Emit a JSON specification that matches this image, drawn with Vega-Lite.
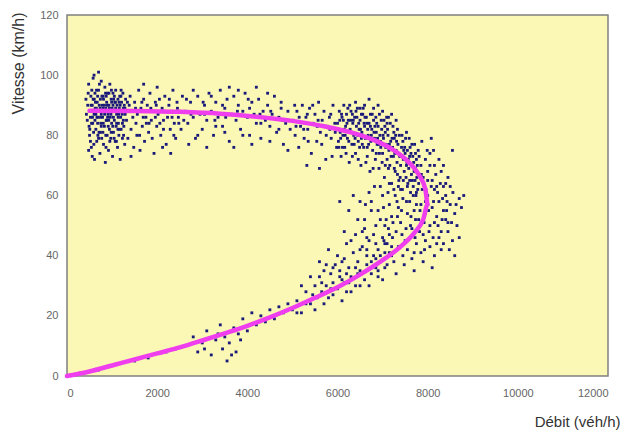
{
"$schema": "https://vega.github.io/schema/vega-lite/v6.json",
"width": 541, "height": 361,
"autosize": "none",
"padding": {"left": 67, "top": 15, "right": 18, "bottom": 62},
"background": "white",
"config": {"view": {"fill": "#FBF7B4", "stroke": "#808080", "strokeWidth": 1.5},
 "axis": {"grid": false, "ticks": false, "domain": false, "labelFont": "Liberation Sans", "labelFontSize": 11, "labelColor": "#666666", "titleFont": "Liberation Sans", "titleFontWeight": "normal", "titleColor": "#333333"}},
"datasets": {
"pts": [
{"q":420,"v":92},{"q":450,"v":85},{"q":480,"v":97},{"q":500,"v":80},{"q":510,"v":88},{"q":530,"v":93},{"q":540,"v":76},{"q":560,"v":90},{"q":570,"v":84},{"q":580,"v":99},{"q":600,"v":87},{"q":610,"v":72},{"q":620,"v":94},{"q":640,"v":82},{"q":650,"v":89},{"q":660,"v":78},{"q":670,"v":91},{"q":690,"v":86},{"q":700,"v":95},{"q":710,"v":81},{"q":720,"v":88},{"q":730,"v":74},{"q":740,"v":92},{"q":750,"v":84},{"q":760,"v":98},{"q":770,"v":79},{"q":780,"v":90},{"q":790,"v":86},{"q":800,"v":93},{"q":810,"v":77},{"q":820,"v":88},{"q":830,"v":83},{"q":840,"v":96},{"q":850,"v":71},{"q":860,"v":89},{"q":870,"v":85},{"q":880,"v":91},{"q":890,"v":80},{"q":900,"v":94},{"q":910,"v":87},{"q":920,"v":75},{"q":930,"v":90},{"q":940,"v":82},{"q":950,"v":97},{"q":960,"v":86},{"q":970,"v":79},{"q":980,"v":92},{"q":990,"v":84},{"q":1000,"v":89},{"q":1010,"v":73},{"q":1020,"v":94},{"q":1030,"v":81},{"q":1040,"v":88},{"q":1050,"v":85},{"q":1060,"v":91},{"q":1070,"v":78},{"q":1080,"v":95},{"q":1090,"v":83},{"q":1100,"v":87},{"q":1110,"v":90},{"q":1120,"v":76},{"q":1130,"v":92},{"q":1140,"v":84},{"q":1150,"v":80},{"q":1160,"v":89},{"q":1170,"v":93},{"q":1180,"v":72},{"q":1190,"v":86},{"q":1200,"v":82},{"q":1210,"v":91},{"q":1220,"v":88},{"q":1230,"v":79},{"q":1240,"v":94},{"q":1250,"v":85},{"q":1260,"v":83},{"q":1270,"v":90},{"q":1280,"v":77},{"q":1290,"v":87},{"q":1300,"v":92},
{"q":460,"v":90},{"q":490,"v":83},{"q":520,"v":86},{"q":550,"v":95},{"q":590,"v":81},{"q":630,"v":91},{"q":680,"v":84},{"q":720,"v":97},{"q":760,"v":87},{"q":810,"v":92},{"q":860,"v":80},{"q":900,"v":86},{"q":940,"v":89},{"q":990,"v":91},{"q":1050,"v":93},{"q":1100,"v":84},{"q":1150,"v":87},{"q":1200,"v":95},{"q":1250,"v":89},{"q":520,"v":78},{"q":580,"v":92},{"q":640,"v":87},{"q":700,"v":79},{"q":760,"v":83},{"q":830,"v":90},{"q":880,"v":85},{"q":930,"v":94},{"q":980,"v":81},{"q":1030,"v":86},{"q":1080,"v":89},{"q":1130,"v":82},{"q":1180,"v":90},{"q":1230,"v":84},{"q":600,"v":100},{"q":700,"v":101},{"q":480,"v":75},{"q":560,"v":73},{"q":620,"v":85},{"q":680,"v":93},{"q":740,"v":81},{"q":800,"v":89},{"q":870,"v":93},{"q":950,"v":78},{"q":1020,"v":90},
{"q":430,"v":87},{"q":470,"v":94},{"q":505,"v":82},{"q":535,"v":90},{"q":565,"v":86},{"q":595,"v":77},{"q":625,"v":89},{"q":655,"v":95},{"q":685,"v":80},{"q":715,"v":90},{"q":745,"v":86},{"q":775,"v":93},{"q":805,"v":84},{"q":835,"v":87},{"q":865,"v":76},{"q":895,"v":90},{"q":925,"v":85},{"q":955,"v":88},{"q":985,"v":95},{"q":1015,"v":83},{"q":1045,"v":79},{"q":1075,"v":91},{"q":1105,"v":88},{"q":1135,"v":86},{"q":1165,"v":82},{"q":1195,"v":93},{"q":1225,"v":87},{"q":1255,"v":80},{"q":1285,"v":89},{"q":545,"v":84},{"q":605,"v":92},{"q":665,"v":86},{"q":735,"v":89},{"q":795,"v":81},{"q":855,"v":94},{"q":915,"v":83},{"q":975,"v":87},{"q":1035,"v":92},{"q":1095,"v":78},{"q":1155,"v":91},
{"q":1320,"v":85},{"q":1350,"v":79},{"q":1380,"v":90},{"q":1400,"v":93},{"q":1420,"v":82},{"q":1450,"v":88},{"q":1480,"v":76},{"q":1500,"v":91},{"q":1530,"v":84},{"q":1560,"v":87},{"q":1590,"v":95},{"q":1610,"v":80},{"q":1640,"v":89},{"q":1670,"v":83},{"q":1700,"v":92},{"q":1720,"v":78},{"q":1750,"v":86},{"q":1780,"v":90},{"q":1810,"v":81},{"q":1840,"v":94},{"q":1870,"v":85},{"q":1900,"v":88},{"q":1930,"v":74},{"q":1960,"v":91},{"q":1990,"v":83},{"q":2020,"v":87},{"q":2050,"v":92},{"q":2080,"v":80},{"q":2110,"v":89},{"q":2140,"v":85},{"q":2170,"v":93},{"q":2200,"v":77},{"q":2230,"v":86},{"q":2260,"v":90},{"q":2290,"v":82},{"q":2320,"v":88},{"q":2350,"v":95},{"q":2380,"v":84},{"q":2410,"v":79},{"q":2440,"v":91},{"q":2470,"v":86},{"q":2500,"v":88},{"q":2530,"v":82},{"q":2560,"v":93},{"q":2590,"v":85},{"q":1340,"v":91},{"q":1460,"v":86},{"q":1550,"v":80},{"q":1660,"v":91},{"q":1760,"v":84},{"q":1860,"v":89},{"q":1960,"v":86},{"q":2060,"v":84},{"q":2160,"v":88},{"q":2270,"v":92},{"q":2370,"v":80},{"q":2480,"v":84},{"q":1420,"v":73},{"q":1620,"v":75},{"q":1890,"v":79},{"q":2120,"v":76},{"q":2300,"v":74},{"q":1700,"v":97},{"q":2000,"v":96},
{"q":1520,"v":89},{"q":1690,"v":86},{"q":1820,"v":84},{"q":1980,"v":90},{"q":2140,"v":82},{"q":2330,"v":86},{"q":2450,"v":89},{"q":2750,"v":87},{"q":3020,"v":91},{"q":3280,"v":85},{"q":3520,"v":86},{"q":3780,"v":88},{"q":4020,"v":92},{"q":4280,"v":87},{"q":4520,"v":88},{"q":4780,"v":85},{"q":5080,"v":83},{"q":5330,"v":87},{"q":5570,"v":85},{"q":5830,"v":82},
{"q":2620,"v":88},{"q":2680,"v":84},{"q":2740,"v":91},{"q":2800,"v":86},{"q":2850,"v":79},{"q":2900,"v":93},{"q":2950,"v":87},{"q":3000,"v":82},{"q":3050,"v":90},{"q":3100,"v":85},{"q":3150,"v":94},{"q":3200,"v":88},{"q":3250,"v":80},{"q":3300,"v":91},{"q":3350,"v":86},{"q":3400,"v":95},{"q":3450,"v":83},{"q":3500,"v":89},{"q":3550,"v":92},{"q":3600,"v":78},{"q":3650,"v":87},{"q":3700,"v":93},{"q":3750,"v":85},{"q":3800,"v":90},{"q":3850,"v":82},{"q":3900,"v":88},{"q":3950,"v":94},{"q":4000,"v":86},{"q":4050,"v":80},{"q":4100,"v":91},{"q":4150,"v":87},{"q":4200,"v":84},{"q":4250,"v":92},{"q":4300,"v":79},{"q":4350,"v":88},{"q":4400,"v":85},{"q":4450,"v":90},{"q":4500,"v":83},{"q":4550,"v":87},{"q":4600,"v":93},{"q":4650,"v":81},{"q":4700,"v":86},{"q":4750,"v":89},{"q":4800,"v":77},{"q":4850,"v":84},{"q":4900,"v":88},{"q":4950,"v":82},{"q":2700,"v":77},{"q":2900,"v":80},{"q":3100,"v":76},{"q":3300,"v":83},{"q":3500,"v":81},{"q":3700,"v":76},{"q":3900,"v":80},{"q":4100,"v":77},{"q":4300,"v":84},{"q":4500,"v":78},{"q":4700,"v":82},{"q":4900,"v":75},{"q":3600,"v":96},{"q":3800,"v":95},{"q":4200,"v":96},{"q":3200,"v":93},{"q":2800,"v":95},{"q":4450,"v":94},{"q":4050,"v":89},{"q":3450,"v":90},{"q":3050,"v":87},{"q":2650,"v":92},{"q":4750,"v":91},
{"q":5020,"v":85},{"q":5060,"v":80},{"q":5100,"v":88},{"q":5140,"v":76},{"q":5180,"v":83},{"q":5220,"v":90},{"q":5260,"v":79},{"q":5300,"v":86},{"q":5340,"v":82},{"q":5380,"v":89},{"q":5420,"v":74},{"q":5460,"v":84},{"q":5500,"v":87},{"q":5540,"v":78},{"q":5580,"v":91},{"q":5620,"v":81},{"q":5660,"v":85},{"q":5700,"v":88},{"q":5740,"v":72},{"q":5780,"v":83},{"q":5820,"v":86},{"q":5860,"v":79},{"q":5900,"v":90},{"q":5940,"v":84},{"q":5980,"v":76},{"q":5050,"v":90},{"q":5150,"v":86},{"q":5250,"v":82},{"q":5350,"v":78},{"q":5450,"v":90},{"q":5550,"v":83},{"q":5650,"v":77},{"q":5750,"v":80},{"q":5850,"v":87},{"q":5950,"v":81},{"q":5320,"v":70},{"q":5600,"v":69},{"q":5880,"v":73},
{"q":6000,"v":84},{"q":6020,"v":78},{"q":6040,"v":88},{"q":6060,"v":81},{"q":6080,"v":73},{"q":6100,"v":86},{"q":6120,"v":80},{"q":6140,"v":90},{"q":6160,"v":76},{"q":6180,"v":83},{"q":6200,"v":87},{"q":6220,"v":79},{"q":6240,"v":85},{"q":6260,"v":71},{"q":6280,"v":82},{"q":6300,"v":88},{"q":6320,"v":77},{"q":6340,"v":84},{"q":6360,"v":80},{"q":6380,"v":86},{"q":6400,"v":74},{"q":6420,"v":83},{"q":6440,"v":89},{"q":6460,"v":78},{"q":6480,"v":82},{"q":6500,"v":85},{"q":6520,"v":70},{"q":6540,"v":81},{"q":6560,"v":87},{"q":6580,"v":76},{"q":6600,"v":83},{"q":6620,"v":79},{"q":6640,"v":86},{"q":6660,"v":73},{"q":6680,"v":80},{"q":6700,"v":84},{"q":6720,"v":68},{"q":6740,"v":78},{"q":6760,"v":82},{"q":6780,"v":75},{"q":6800,"v":85},{"q":6820,"v":79},{"q":6840,"v":72},{"q":6860,"v":81},{"q":6880,"v":77},{"q":6900,"v":83},{"q":6920,"v":69},{"q":6940,"v":80},{"q":6960,"v":76},{"q":6980,"v":82},{"q":7000,"v":74},{"q":7020,"v":79},{"q":7040,"v":66},{"q":7060,"v":81},{"q":7080,"v":77},{"q":7100,"v":72},{"q":7120,"v":80},{"q":7140,"v":75},{"q":7160,"v":70},{"q":7180,"v":78},{"q":7200,"v":64},{"q":7220,"v":76},{"q":7240,"v":73},{"q":7260,"v":79},{"q":7280,"v":68},{"q":7300,"v":75},{"q":7320,"v":71},{"q":7340,"v":77},{"q":7360,"v":65},{"q":7380,"v":73},{"q":7400,"v":70},{"q":7420,"v":76},{"q":7440,"v":62},{"q":7460,"v":72},{"q":7480,"v":68},{"q":7500,"v":74},{"q":7520,"v":66},{"q":7540,"v":71},{"q":7560,"v":64},{"q":7580,"v":69},{"q":7600,"v":73},{"q":7620,"v":61},{"q":7640,"v":67},{"q":7660,"v":70},{"q":7680,"v":63},{"q":7700,"v":68},{"q":7720,"v":65},{"q":7740,"v":60},{"q":7760,"v":66},{"q":7780,"v":62},
{"q":6050,"v":85},{"q":6150,"v":82},{"q":6250,"v":78},{"q":6350,"v":85},{"q":6450,"v":80},{"q":6550,"v":77},{"q":6650,"v":84},{"q":6750,"v":80},{"q":6850,"v":86},{"q":6950,"v":78},{"q":7050,"v":83},{"q":7150,"v":77},{"q":7250,"v":81},{"q":7350,"v":74},{"q":7450,"v":78},{"q":7550,"v":75},{"q":7650,"v":77},{"q":7750,"v":72},{"q":6110,"v":76},{"q":6230,"v":89},{"q":6330,"v":73},{"q":6430,"v":86},{"q":6530,"v":79},{"q":6630,"v":71},{"q":6730,"v":87},{"q":6830,"v":83},{"q":6930,"v":74},{"q":7030,"v":85},{"q":7130,"v":69},{"q":7230,"v":83},{"q":7330,"v":67},{"q":7430,"v":80},{"q":7530,"v":70},{"q":7630,"v":74},{"q":7730,"v":69},{"q":6070,"v":79},{"q":6190,"v":74},{"q":6290,"v":85},{"q":6390,"v":79},{"q":6490,"v":76},{"q":6590,"v":84},{"q":6690,"v":77},{"q":6790,"v":69},{"q":6890,"v":79},{"q":6990,"v":71},{"q":7090,"v":86},{"q":7190,"v":73},{"q":7290,"v":80},{"q":7390,"v":66},{"q":7490,"v":76},{"q":7590,"v":79},{"q":7690,"v":71},{"q":7790,"v":75},{"q":7850,"v":70},{"q":7900,"v":66},{"q":7950,"v":72},{"q":8000,"v":68},{"q":8050,"v":74},{"q":8100,"v":65},{"q":8150,"v":70},{"q":8200,"v":63},{"q":8300,"v":68},{"q":8400,"v":64},{"q":8550,"v":75},{"q":7870,"v":78},{"q":7960,"v":62},{"q":8080,"v":79},{"q":8250,"v":72},
{"q":6010,"v":82},{"q":6090,"v":87},{"q":6170,"v":80},{"q":6210,"v":84},{"q":6270,"v":90},{"q":6310,"v":81},{"q":6370,"v":77},{"q":6410,"v":88},{"q":6470,"v":84},{"q":6510,"v":82},{"q":6570,"v":89},{"q":6610,"v":86},{"q":6670,"v":82},{"q":6710,"v":79},{"q":6770,"v":87},{"q":6810,"v":81},{"q":6870,"v":84},{"q":6910,"v":77},{"q":6970,"v":85},{"q":7010,"v":80},{"q":7070,"v":76},{"q":7110,"v":82},{"q":7170,"v":84},{"q":7210,"v":79},{"q":7270,"v":74},{"q":7310,"v":78},{"q":7370,"v":80},{"q":7410,"v":73},{"q":7470,"v":75},{"q":7510,"v":79},{"q":7570,"v":72},{"q":7610,"v":76},{"q":7670,"v":73},{"q":7710,"v":77},{"q":7770,"v":70},{"q":7810,"v":73},{"q":6030,"v":76},{"q":6130,"v":85},{"q":6330,"v":87},{"q":6530,"v":87},{"q":6730,"v":83},{"q":6930,"v":87},{"q":7130,"v":86},{"q":7330,"v":82},{"q":7530,"v":81},{"q":7730,"v":74},{"q":6460,"v":72},{"q":6660,"v":76},{"q":6860,"v":74},{"q":7060,"v":70},{"q":7260,"v":69},{"q":7460,"v":65},{"q":7660,"v":65},{"q":7860,"v":67},{"q":8050,"v":70},{"q":8180,"v":67},{"q":8350,"v":70},{"q":8450,"v":66},{"q":7990,"v":75},{"q":8130,"v":75},
{"q":6400,"v":91},{"q":6600,"v":90},{"q":6800,"v":89},{"q":7000,"v":88},{"q":7200,"v":87},{"q":6700,"v":92},{"q":6500,"v":89},{"q":6900,"v":90},{"q":7100,"v":84},{"q":7300,"v":85},
{"q":6500,"v":58},{"q":6600,"v":52},{"q":6700,"v":61},{"q":6800,"v":47},{"q":6900,"v":55},{"q":7000,"v":60},{"q":7050,"v":50},{"q":7100,"v":44},{"q":7150,"v":57},{"q":7200,"v":53},{"q":7250,"v":62},{"q":7300,"v":48},{"q":7350,"v":56},{"q":7400,"v":51},{"q":7450,"v":59},{"q":7500,"v":45},{"q":7550,"v":54},{"q":7600,"v":58},{"q":7650,"v":49},{"q":7700,"v":55},{"q":7750,"v":61},{"q":7800,"v":52},{"q":7850,"v":57},{"q":7900,"v":47},{"q":7950,"v":54},{"q":8000,"v":60},{"q":8050,"v":50},{"q":8100,"v":56},{"q":8150,"v":62},{"q":8200,"v":53},{"q":8250,"v":58},{"q":8300,"v":48},{"q":8350,"v":55},{"q":8400,"v":60},{"q":8450,"v":51},{"q":8500,"v":57},{"q":8550,"v":45},{"q":8600,"v":54},{"q":8700,"v":59},{"q":8800,"v":60},{"q":6650,"v":42},{"q":6750,"v":38},{"q":6850,"v":44},{"q":6950,"v":40},{"q":7050,"v":36},{"q":7150,"v":41},{"q":7250,"v":38},{"q":7350,"v":43},{"q":7450,"v":40},{"q":7550,"v":42},{"q":7650,"v":39},{"q":7750,"v":44},{"q":7850,"v":41},{"q":7950,"v":45},{"q":8050,"v":43},{"q":8150,"v":40},{"q":8250,"v":46},{"q":8350,"v":44},{"q":8450,"v":48},{"q":8600,"v":40},{"q":6550,"v":48},{"q":6750,"v":55},{"q":6950,"v":63},{"q":7150,"v":64},{"q":7350,"v":63},{"q":7550,"v":63},{"q":7750,"v":57},{"q":7950,"v":58},{"q":8150,"v":51},{"q":8350,"v":63},{"q":8500,"v":63},{"q":7020,"v":56},{"q":7220,"v":46},{"q":7420,"v":55},{"q":7620,"v":50},{"q":7820,"v":48},{"q":8020,"v":55},{"q":8220,"v":61},{"q":8420,"v":55},{"q":7120,"v":61},{"q":7320,"v":58},{"q":7520,"v":49},{"q":7720,"v":46},{"q":7920,"v":51},{"q":8120,"v":46},{"q":8320,"v":52},{"q":7480,"v":37},{"q":7700,"v":35},{"q":7900,"v":38},{"q":8100,"v":36},{"q":8300,"v":42},{"q":6900,"v":35},{"q":7300,"v":34},{"q":8650,"v":50},{"q":8750,"v":56},{"q":7080,"v":52},{"q":7280,"v":60},{"q":7680,"v":60},{"q":7880,"v":62},{"q":8080,"v":63},{"q":8280,"v":64},{"q":8480,"v":42},{"q":6620,"v":57},{"q":6820,"v":63},{"q":7600,"v":65},{"q":7800,"v":64},{"q":8000,"v":65},
{"q":7030,"v":45},{"q":7230,"v":51},{"q":7430,"v":47},{"q":7630,"v":53},{"q":7830,"v":55},{"q":8030,"v":48},{"q":8230,"v":50},{"q":8430,"v":58},{"q":8630,"v":57},{"q":7130,"v":49},{"q":7330,"v":53},{"q":7530,"v":58},{"q":7730,"v":52},{"q":7930,"v":42},{"q":8130,"v":58},{"q":8330,"v":59},{"q":8530,"v":51},{"q":6850,"v":50},{"q":6650,"v":46},{"q":6450,"v":52},{"q":6250,"v":55},{"q":6050,"v":58},{"q":6350,"v":60},{"q":6150,"v":48},{"q":6750,"v":58},{"q":6950,"v":52},{"q":7400,"v":62},{"q":7700,"v":41},{"q":8200,"v":44},{"q":8400,"v":52},{"q":8560,"v":61},{"q":8700,"v":46},
{"q":5000,"v":22},{"q":5100,"v":25},{"q":5200,"v":21},{"q":5300,"v":28},{"q":5400,"v":24},{"q":5500,"v":30},{"q":5550,"v":26},{"q":5600,"v":33},{"q":5650,"v":28},{"q":5700,"v":35},{"q":5750,"v":30},{"q":5800,"v":26},{"q":5850,"v":34},{"q":5900,"v":31},{"q":5950,"v":37},{"q":6000,"v":29},{"q":6050,"v":35},{"q":6100,"v":32},{"q":6150,"v":39},{"q":6200,"v":28},{"q":6250,"v":36},{"q":6300,"v":33},{"q":6350,"v":41},{"q":6400,"v":30},{"q":6450,"v":38},{"q":6500,"v":35},{"q":6550,"v":43},{"q":6600,"v":32},{"q":6650,"v":37},{"q":6700,"v":45},{"q":6750,"v":34},{"q":6800,"v":40},{"q":6850,"v":36},{"q":6900,"v":42},{"q":6950,"v":38},{"q":7000,"v":46},{"q":7050,"v":41},{"q":7100,"v":37},{"q":7150,"v":47},{"q":7200,"v":43},{"q":5600,"v":38},{"q":5800,"v":42},{"q":6000,"v":40},{"q":6200,"v":44},{"q":6400,"v":47},{"q":6600,"v":49},{"q":5500,"v":22},{"q":5700,"v":24},{"q":5900,"v":27},{"q":6100,"v":25},{"q":6300,"v":28},{"q":6500,"v":30},{"q":5400,"v":33},{"q":5200,"v":30},{"q":6700,"v":30},{"q":6900,"v":33},{"q":7000,"v":32},{"q":6200,"v":34},{"q":6400,"v":36},{"q":5750,"v":37},{"q":6150,"v":31},
{"q":5300,"v":24},{"q":5450,"v":27},{"q":5650,"v":31},{"q":5850,"v":29},{"q":6050,"v":33},{"q":6250,"v":31},{"q":6450,"v":34},{"q":6650,"v":40},{"q":6850,"v":39},{"q":7050,"v":44},{"q":7200,"v":40},{"q":5100,"v":21},{"q":5900,"v":36},{"q":6100,"v":38},{"q":6300,"v":45},{"q":6500,"v":42},
{"q":2600,"v":10},{"q":2800,"v":13},{"q":2900,"v":8},{"q":3000,"v":11},{"q":3100,"v":15},{"q":3200,"v":7},{"q":3300,"v":12},{"q":3400,"v":17},{"q":3450,"v":9},{"q":3500,"v":13},{"q":3550,"v":5},{"q":3600,"v":11},{"q":3700,"v":16},{"q":3750,"v":8},{"q":3800,"v":14},{"q":3900,"v":19},{"q":4000,"v":15},{"q":4100,"v":21},{"q":4200,"v":17},{"q":4300,"v":20},{"q":4400,"v":18},{"q":4500,"v":22},{"q":4600,"v":19},{"q":4700,"v":23},{"q":4800,"v":21},{"q":4900,"v":24},{"q":3050,"v":9},{"q":3350,"v":14},{"q":3650,"v":7},{"q":3850,"v":12},
{"q":300,"v":1},{"q":700,"v":2},{"q":1100,"v":4},{"q":1500,"v":5},{"q":1800,"v":6},{"q":2200,"v":8},{"q":2400,"v":9},{"q":900,"v":3}
],
"curve": [
{"i":0,"q":0,"v":0},{"i":1,"q":500,"v":1.5},{"i":2,"q":1000,"v":3.5},{"i":3,"q":1500,"v":5.5},{"i":4,"q":2000,"v":7.5},{"i":5,"q":2500,"v":9.5},{"i":6,"q":3000,"v":11.8},{"i":7,"q":3500,"v":14.2},{"i":8,"q":4000,"v":16.7},{"i":9,"q":4500,"v":19.5},{"i":10,"q":5000,"v":22.6},{"i":11,"q":5500,"v":26},{"i":12,"q":6000,"v":29.5},{"i":13,"q":6500,"v":33.7},{"i":14,"q":7000,"v":38.5},{"i":15,"q":7400,"v":43},{"i":16,"q":7700,"v":47.5},{"i":17,"q":7900,"v":52},{"i":18,"q":8000,"v":57},{"i":19,"q":7950,"v":62},{"i":20,"q":7800,"v":67},{"i":21,"q":7550,"v":71.5},{"i":22,"q":7200,"v":75.5},{"i":23,"q":6800,"v":78.5},{"i":24,"q":6300,"v":81},{"i":25,"q":5700,"v":83},{"i":26,"q":5000,"v":84.8},{"i":27,"q":4200,"v":86.2},{"i":28,"q":3400,"v":87.2},{"i":29,"q":2500,"v":87.8},{"i":30,"q":1500,"v":88.1},{"i":31,"q":500,"v":88.2}
]
},
"encoding": {
 "x": {"field": "q", "type": "quantitative", "scale": {"domain": [0, 12000], "nice": false},
  "axis": {"values": [0, 2000, 4000, 6000, 8000, 10000, 12000], "format": "d", "labelPadding": 11, "title": "Débit (véh/h)", "titleFontSize": 15, "titleX": 553, "titleY": 45, "titleAlign": "right", "titleBaseline": "middle", "titleAnchor": "end"}},
 "y": {"field": "v", "type": "quantitative", "scale": {"domain": [0, 120], "nice": false},
  "axis": {"values": [0, 20, 40, 60, 80, 100, 120], "format": "d", "labelPadding": 9, "title": "Vitesse (km/h)", "titleFontSize": 16, "titleAngle": -90, "titleX": -41, "titleY": -3, "titleAlign": "right", "titleBaseline": "bottom", "titleAnchor": "end"}}
},
"layer": [
 {"data": {"name": "pts"}, "mark": {"type": "point", "shape": "square", "filled": true, "size": 8, "color": "#1A1A7A", "opacity": 1}},
 {"data": {"name": "curve"}, "mark": {"type": "line", "color": "#EE3EEE", "strokeWidth": 4.5, "strokeCap": "round", "strokeJoin": "round", "interpolate": "monotone"}, "encoding": {"order": {"field": "i", "type": "quantitative"}}}
]
}
